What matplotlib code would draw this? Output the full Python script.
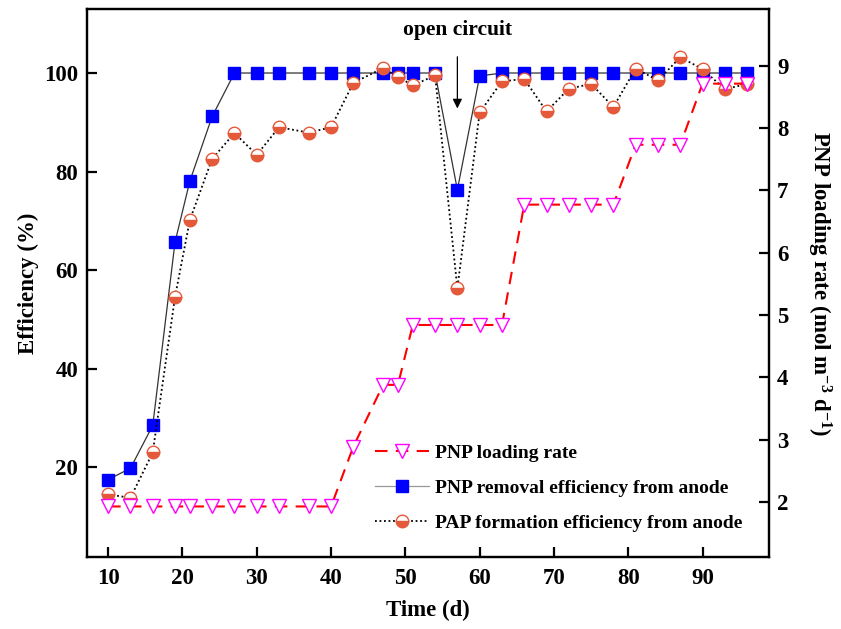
import matplotlib
matplotlib.use('Agg')
import matplotlib.pyplot as plt

plt.rcParams['font.family'] = ['Liberation Serif', 'DejaVu Serif']
plt.rcParams['font.weight'] = 'bold'
plt.rcParams['axes.labelweight'] = 'bold'
plt.rcParams['mathtext.fontset'] = 'custom'
plt.rcParams['mathtext.rm'] = 'Liberation Serif:bold'
plt.rcParams['mathtext.it'] = 'Liberation Serif:bold'
plt.rcParams['mathtext.bf'] = 'Liberation Serif:bold'
plt.rcParams['mathtext.default'] = 'bf'

# time (d)
days = [10, 13, 16, 19, 21, 24, 27, 30, 33, 37, 40, 43, 47, 49, 51, 54,
        57, 60, 63, 66, 69, 72, 75, 78, 81, 84, 87, 90, 93, 96]

# PNP removal efficiency from anode (%)
removal = [17.5, 19.8, 28.5, 65.7, 78.1, 91.2, 100, 100, 100, 100, 100, 100,
           100, 100, 100, 100, 76.3, 99.4, 100, 100, 100, 100, 100, 100,
           100, 100, 100, 100, 100, 100]

# PAP formation efficiency from anode (%)
formation = [14.5, 13.8, 23.0, 54.6, 70.2, 82.6, 87.8, 83.4, 89.0, 87.9, 89.0,
             98.0, 101.0, 99.2, 97.5, 99.5, 56.3, 92.0, 98.3, 98.8, 92.2, 96.8,
             97.8, 93.1, 100.9, 98.5, 103.2, 100.8, 96.7, 97.8]

# PNP loading rate (mol m-3 d-1)
loading = [1.93, 1.93, 1.93, 1.93, 1.93, 1.93, 1.93, 1.93, 1.93, 1.93, 1.93,
           2.89, 3.88, 3.88, 4.84, 4.84, 4.84, 4.84, 4.84, 6.77, 6.77, 6.77,
           6.77, 6.77, 7.73, 7.73, 7.73, 8.71, 8.71, 8.71]

circ_col = '#E5593B'

fig = plt.figure(figsize=(8.41, 6.29), dpi=100)
ax = fig.add_axes([0.103, 0.1145, 0.811, 0.8705])
ax2 = ax.twinx()

l2, = ax.plot(days, removal, color='#333333', lw=0.9, marker='s', ms=8,
              mfc='#0000FF', mec='#0000FF', zorder=3,
              label='PNP removal efficiency from anode')
l3, = ax.plot(days, formation, color='black', lw=1.3, ls=(0, (1, 1.5)),
              marker='o', ms=9, fillstyle='bottom', mfc=circ_col,
              mfcalt='white', mec=circ_col, mew=1.0, zorder=4,
              label='PAP formation efficiency from anode')
l1, = ax2.plot(days, loading, color='#FF0000', lw=1.5, ls=(0, (6, 4)),
               marker='v', ms=10, mfc='white', mec='#FF00FF', mew=1.0,
               label='PNP loading rate')

ax.set_xlim(7.1, 98.9)
ax.set_ylim(1.8, 112.9)
ax2.set_ylim(1.12, 9.9)
ax.set_xticks([10, 20, 30, 40, 50, 60, 70, 80, 90])
ax.set_yticks([20, 40, 60, 80, 100])
ax2.set_yticks([2, 3, 4, 5, 6, 7, 8, 9])

for a in (ax, ax2):
    for s in a.spines.values():
        s.set_linewidth(1.6)
    a.tick_params(direction='in', length=7, width=1.6, labelsize=16.5)
ax.tick_params(axis='x', pad=8)
ax.tick_params(axis='y', pad=6)
ax2.tick_params(axis='y', pad=6)

ax.set_xlabel('Time (d)', fontsize=16.5, fontweight='bold', labelpad=8)
ax.set_ylabel('Efficiency (%)', fontsize=16.5, fontweight='bold', labelpad=4)
ax2.set_ylabel('PNP loading rate (mol m$^{-3}$ d$^{-1}$)', fontsize=16.5,
               fontweight='bold', rotation=270, labelpad=32)

ax.annotate('open circuit', xy=(57, 92.8), xytext=(57, 108.7),
            ha='center', va='center', fontsize=15.5, fontweight='bold',
            arrowprops=dict(arrowstyle='-|>', color='black', lw=0.9,
                            shrinkA=10, shrinkB=0, mutation_scale=14))

leg = ax2.legend(handles=[l1, l2, l3], loc='center left',
                 bbox_to_anchor=(0.434, 0.224), bbox_transform=fig.transFigure,
                 frameon=False, prop={'size': 14, 'weight': 'bold'},
                 handlelength=2.8, handletextpad=0.3, labelspacing=0.9,
                 borderpad=0)
leg.legend_handles[1].set_color('#999999')

fig.savefig('out.png', dpi=100)
